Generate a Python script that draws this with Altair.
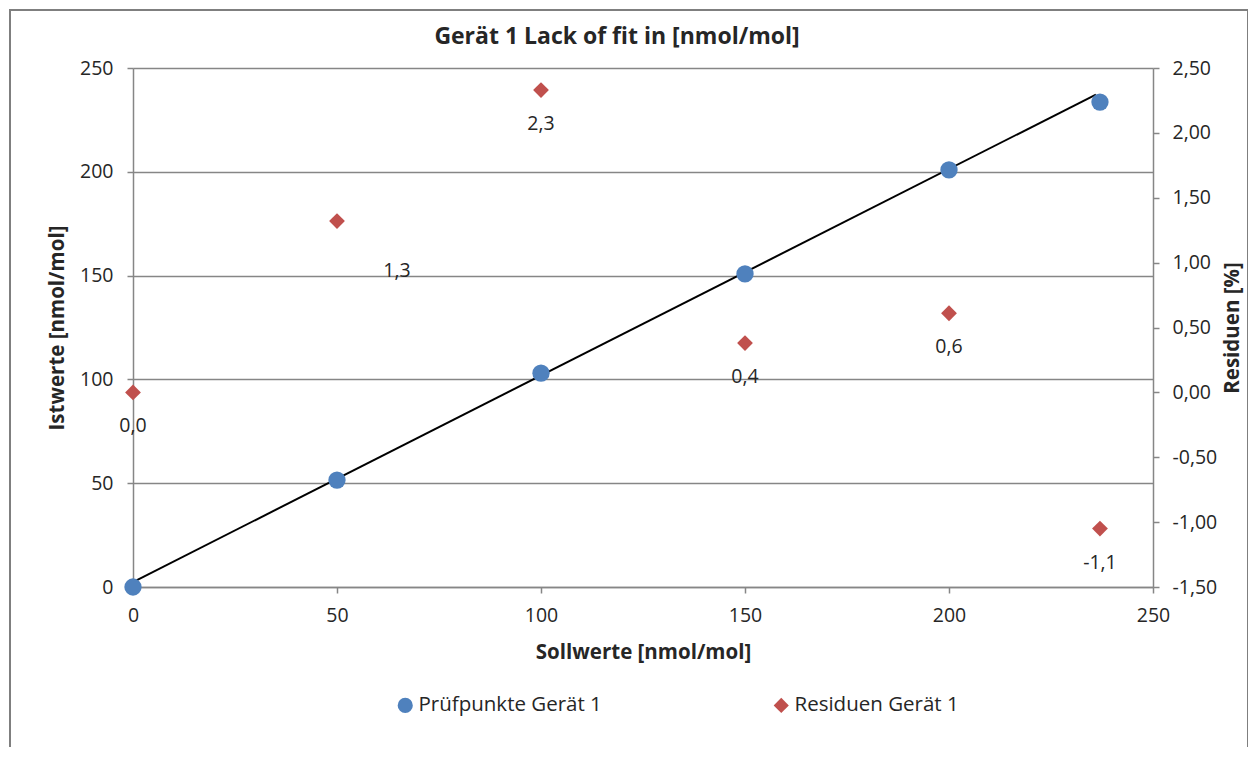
import altair as alt
import pandas as pd

# data
soll = [0, 50, 100, 150, 200, 237]
ist = [0, 51.5, 103, 150.8, 200.9, 233.6]
resid = [0.0, 1.32, 2.33, 0.38, 0.61, -1.05]
resid_labels = ["0,0", "1,3", "2,3", "0,4", "0,6", "-1,1"]
fit_x = [0, 236]
fit_y = [2.4, 237.2]
title_text = ["Gerät 1 Lack of fit in [nmol/mol]"]

S1 = "Prüfpunkte Gerät 1"
S2 = "Residuen Gerät 1"
FONT = "Open Sans"
GRAY = "#868686"
TXT = "#262626"

pts = pd.DataFrame({"x": soll, "y": ist, "series": S1})
res = pd.DataFrame({"x": soll, "r": resid, "lab": resid_labels, "series": S2})
fit = pd.DataFrame({"x": fit_x, "y": fit_y})
ttl = pd.DataFrame({"t": title_text})

xs = alt.Scale(domain=[0, 250], nice=False)
xaxis = alt.Axis(values=[0, 50, 100, 150, 200, 250], grid=False, title="Sollwerte [nmol/mol]",
                 labelFlush=False,
                 domainColor=GRAY, domainWidth=1.5, tickColor=GRAY, tickWidth=1.5, tickSize=6,
                 labelFontSize=19.5, labelFont=FONT, labelColor=TXT, labelPadding=13,
                 titleFont=FONT, titleFontSize=20.5, titleFontWeight="bold", titleColor=TXT, titlePadding=18)
ly = alt.Scale(domain=[0, 250], nice=False)
lyaxis = alt.Axis(values=[0, 50, 100, 150, 200, 250], grid=True, gridColor=GRAY, gridWidth=1.5,
                  title="Istwerte [nmol/mol]", orient="left", labelFlush=False,
                  domainColor=GRAY, domainWidth=1.5, tickColor=GRAY, tickWidth=1.5, tickSize=6,
                  labelFontSize=19.5, labelFont=FONT, labelColor=TXT, labelPadding=14,
                  titleFont=FONT, titleFontSize=20.5, titleFontWeight="bold", titleColor=TXT, titlePadding=12)
ry = alt.Scale(domain=[-1.5, 2.5], nice=False)
ryaxis = alt.Axis(values=[-1.5, -1.0, -0.5, 0, 0.5, 1.0, 1.5, 2.0, 2.5], grid=False, orient="right",
                  title="Residuen [%]", titleAngle=270, labelFlush=False,
                  labelExpr="replace(replace(format(datum.value, '.2f'), '.', ','), '\u2212', '-')",
                  domainColor=GRAY, domainWidth=1.5, tickColor=GRAY, tickWidth=1.5, tickSize=6,
                  labelFontSize=19.5, labelFont=FONT, labelColor=TXT, labelPadding=13,
                  titleFont=FONT, titleFontSize=20.5, titleFontWeight="bold", titleColor=TXT, titlePadding=26)

color = alt.Color("series:N", scale=alt.Scale(domain=[S1, S2], range=["#4F81BD", "#C0504D"]),
                  legend=alt.Legend(title=None, orient="none", direction="horizontal",
                                    legendX=262, legendY=627, labelFontSize=20.5, labelFont=FONT,
                                    labelColor=TXT, columnPadding=169, symbolSize=230,
                                    labelLimit=400, symbolStrokeWidth=0, labelOffset=3))
shape = alt.Shape("series:N", scale=alt.Scale(domain=[S1, S2], range=["circle", "diamond"]))

line = alt.Chart(fit).mark_line(color="black", strokeWidth=2).encode(
    x=alt.X("x:Q", scale=xs, axis=xaxis), y=alt.Y("y:Q", scale=ly, axis=lyaxis))
blue = alt.Chart(pts).mark_point(filled=True, opacity=1, size=300).encode(
    x=alt.X("x:Q", scale=xs), y=alt.Y("y:Q", scale=ly), color=color, shape=shape)
left = alt.layer(line, blue)

dia = alt.Chart(res).mark_point(filled=True, opacity=1, size=250).encode(
    x=alt.X("x:Q", scale=xs), y=alt.Y("r:Q", scale=ry, axis=ryaxis), color=color, shape=shape)
labs = alt.Chart(res).transform_filter(alt.datum.lab != "1,3").mark_text(
    dy=34, fontSize=19.5, font=FONT, color=TXT).encode(
    x=alt.X("x:Q", scale=xs), y=alt.Y("r:Q", scale=ry), text="lab:N")
lab13 = alt.Chart(res).transform_filter(alt.datum.lab == "1,3").mark_text(
    dx=60, dy=50, fontSize=19.5, font=FONT, color=TXT).encode(
    x=alt.X("x:Q", scale=xs), y=alt.Y("r:Q", scale=ry), text="lab:N")
right = alt.layer(dia, labs, lab13)

border = alt.Chart(fit).mark_rect(fill=None, stroke="#7f7f7f", strokeWidth=2).encode(
    x=alt.value(-123), x2=alt.value(1115), y=alt.value(-58), y2=alt.value(700))
title = alt.Chart(ttl).mark_text(fontSize=23, fontWeight="bold", font=FONT, color=TXT).encode(
    x=alt.value(484), y=alt.value(-31), text="t:N")

chart = alt.layer(border, title, left, right).resolve_scale(y="independent").properties(
    width=1020, height=519,
    autosize=alt.AutoSizeParams(type="none"),
    padding={"left": 125, "top": 60, "right": 95, "bottom": 160},
).configure_view(stroke=None).configure(background="white")

chart.save("out.html", embed_options={"renderer": "svg", "actions": False})
